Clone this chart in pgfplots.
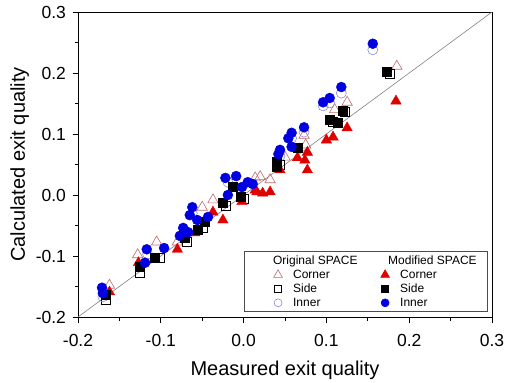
\documentclass[border=0pt]{standalone}
\usepackage{pgfplots}
\pgfplotsset{compat=1.18}
\usepackage{fontspec}
\setmainfont{Liberation Sans}
\definecolor{mred}{RGB}{225,0,0}
\definecolor{mblue}{RGB}{0,0,225}
\definecolor{ored}{RGB}{195,105,105}
\definecolor{oblue}{RGB}{140,140,205}
\begin{document}
\begin{tikzpicture}
\begin{axis}[
  name=ax, scale only axis, width=414pt, height=305pt,
  xmin=-0.2, xmax=0.3, ymin=-0.2, ymax=0.3,
  xtick={-0.2,-0.1,0,0.1,0.2,0.3}, ytick={-0.2,-0.1,0,0.1,0.2,0.3},
  minor x tick num=1, minor y tick num=1,
  tick pos=left, tick align=outside,
  major tick length=5.5pt, minor tick length=3.5pt,
  axis line style={line width=1pt},
  every tick/.style={black, line width=0.8pt},
  tick label style={font=\fontsize{17.5}{20}\selectfont},
  label style={font=\fontsize{20}{24}\selectfont},
  xlabel={Measured exit quality}, ylabel={Calculated exit quality},
  xticklabel style={yshift=-8pt,/pgf/number format/.cd,fixed,fixed zerofill,precision=1,assume math mode=true},
  yticklabel style={xshift=-3pt,/pgf/number format/.cd,fixed,fixed zerofill,precision=1,assume math mode=true},
  xlabel style={yshift=-8pt},
  legend columns=2,
  legend image code/.code={
    \path (-0.85cm,0cm) (0.45cm,0cm);
    \draw[#1] plot coordinates {(0cm,0cm)};
  },
  legend style={font=\fontsize{12}{14}\selectfont, draw=black!70, line width=0.6pt,
    at={(1,0)}, anchor=south east, xshift=-4pt, yshift=5pt,
    inner xsep=9pt, inner ysep=2pt,
    /tikz/every even column/.append style={column sep=1pt}},
  legend cell align=left,
]
\addplot[gray, line width=0.6pt, forget plot] coordinates {(-0.2,-0.2) (0.3,0.3)};
% Original Corner (open triangles)
\addplot[only marks, mark=triangle, mark size=6pt, color=ored, line width=0.6pt, forget plot] coordinates {
(0.185,0.211) (0.125,0.152) (0.073,0.098) (0.075,0.082) (0.020,0.030) (0.032,0.025)
(0.014,0.028) (-0.037,-0.008) (-0.050,-0.020) (-0.080,-0.077) (-0.105,-0.077)
(-0.128,-0.098) (-0.162,-0.148) (0.110,0.140) (0.050,0.062)
};
% Original Side (open squares)
\addplot[only marks, mark=square, mark size=4.5pt, color=black, line width=0.6pt, forget plot] coordinates {
(0.176,0.198) (0.122,0.136) (0.108,0.120) (0.044,0.049) (0.000,-0.007) (-0.021,-0.018)
(-0.049,-0.054) (-0.068,-0.077) (-0.101,-0.103) (-0.125,-0.128) (-0.167,-0.172)
};
% Original Inner (open circles)
\addplot[only marks, mark=o, mark size=5pt, color=oblue, line width=0.6pt, forget plot] coordinates {
(0.156,0.238) (0.118,0.167) (0.104,0.151) (0.096,0.146) (0.073,0.103) (0.058,0.093)
(0.044,0.064) (-0.019,0.021) (-0.062,-0.030) (-0.071,-0.067) (-0.116,-0.097) (-0.170,-0.167)
};
% Modified Corner (filled triangles)
\addplot[only marks, mark=triangle*, mark size=6pt, color=mred, forget plot] coordinates {
(0.184,0.154) (0.125,0.110) (0.108,0.095) (0.100,0.090) (0.077,0.070) (0.065,0.061)
(0.074,0.057) (0.077,0.041) (0.044,0.041) (0.016,0.005) (0.023,0.003) (0.032,0.005)
(0.014,0.008) (-0.002,-0.011) (-0.025,-0.041) (-0.037,-0.028) (-0.059,-0.062)
(-0.080,-0.089) (-0.127,-0.111) (-0.162,-0.159)
};
% Modified Side (filled squares)
\addplot[only marks, mark=square*, mark size=4.5pt, color=black, forget plot] coordinates {
(0.173,0.202) (0.120,0.139) (0.104,0.124) (0.114,0.118) (0.065,0.077) (0.040,0.054)
(0.040,0.046) (-0.013,0.013) (-0.004,-0.003) (-0.025,-0.013) (-0.047,-0.044)
(-0.055,-0.057) (-0.071,-0.070) (-0.107,-0.102) (-0.125,-0.118) (-0.167,-0.164)
};
% Modified Inner (filled circles)
\addplot[only marks, mark=*, mark size=5pt, color=mblue, forget plot] coordinates {
(0.156,0.248) (0.118,0.177) (0.104,0.159) (0.096,0.152) (0.073,0.111) (0.058,0.102)
(0.054,0.093) (0.058,0.079) (0.044,0.074) (0.042,0.067) (0.011,0.018)
(-0.022,0.028) (-0.009,0.031) (0.005,0.021) (-0.002,0.013) (-0.019,0.000)
(-0.062,-0.020) (-0.065,-0.033) (-0.056,-0.041) (-0.043,-0.036) (-0.073,-0.054)
(-0.067,-0.061) (-0.077,-0.067) (-0.117,-0.089) (-0.096,-0.087) (-0.119,-0.111)
(-0.171,-0.152) (-0.170,-0.161)
};
\addlegendimage{empty legend}
\addlegendentry{\hspace*{-20pt}Original SPACE}
\addlegendimage{empty legend}
\addlegendentry{\hspace*{-12pt}Modified SPACE}
\addlegendimage{only marks, mark=triangle, mark size=5pt, color=ored, line width=0.6pt}
\addlegendentry{Corner}
\addlegendimage{only marks, mark=triangle*, mark size=5pt, color=mred}
\addlegendentry{Corner}
\addlegendimage{only marks, mark=square, mark size=3.5pt, color=black, line width=0.6pt}
\addlegendentry{Side}
\addlegendimage{only marks, mark=square*, mark size=3.5pt, color=black}
\addlegendentry{Side}
\addlegendimage{only marks, mark=o, mark size=4pt, color=oblue, line width=0.6pt}
\addlegendentry{Inner}
\addlegendimage{only marks, mark=*, mark size=4pt, color=mblue}
\addlegendentry{Inner}
\coordinate (bl) at (rel axis cs:0,0);
\coordinate (tr) at (rel axis cs:1,1);
\end{axis}
\pgfresetboundingbox
\path[use as bounding box] ([shift={(-78pt,-65pt)}]bl) rectangle ([shift={(14pt,12pt)}]tr);
\end{tikzpicture}
\end{document}
